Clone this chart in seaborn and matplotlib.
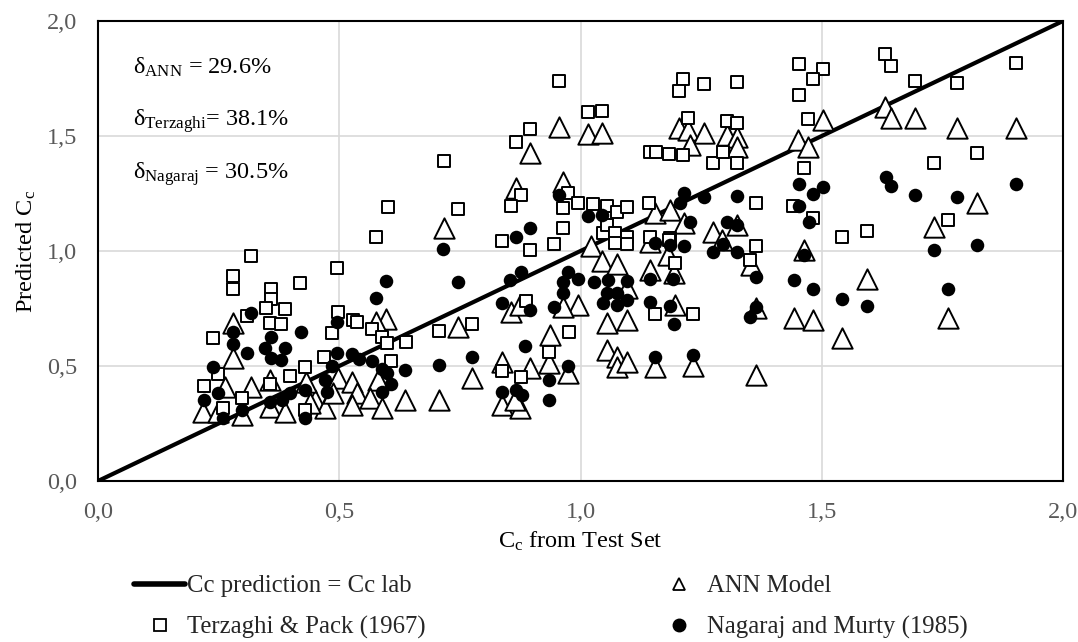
import matplotlib
matplotlib.use("Agg")
import matplotlib.pyplot as plt
import seaborn as sns
from matplotlib.lines import Line2D
from matplotlib.ticker import MultipleLocator, FuncFormatter

# ---------------- data ----------------
line_x = [0.0, 2.0]
line_y = [0.0, 2.0]

ann_pts = [
    (0.279, 0.686), (0.279, 0.533), (0.318, 0.410), (0.263, 0.410), (0.218, 0.301),
    (0.249, 0.301), (0.298, 0.287), (0.356, 0.323), (0.388, 0.301), (0.450, 0.352),
    (0.470, 0.316), (0.356, 0.440), (0.717, 1.100), (0.597, 0.703), (0.577, 0.693),
    (0.747, 0.671), (0.856, 0.736), (0.875, 0.765), (0.937, 0.635), (0.837, 0.519),
    (0.895, 0.490), (0.776, 0.447), (0.498, 0.447), (0.526, 0.432), (0.536, 0.381),
    (0.581, 0.439), (0.564, 0.360), (0.488, 0.381), (0.526, 0.330), (0.588, 0.316),
    (0.636, 0.352), (0.707, 0.352), (0.837, 0.330), (0.875, 0.316), (0.864, 0.352),
    (0.440, 0.338), (0.432, 0.432), (0.956, 1.541), (1.016, 1.509), (1.045, 1.514),
    (0.895, 1.425), (0.866, 1.275), (0.964, 1.301), (1.021, 1.022), (1.154, 1.164),
    (1.185, 1.178), (1.215, 1.120), (1.275, 1.084), (1.324, 1.113), (1.294, 1.048),
    (1.144, 1.040), (1.044, 0.957), (1.075, 0.942), (1.144, 0.917), (1.182, 0.983),
    (1.194, 0.903), (1.096, 0.838), (0.995, 0.765), (0.964, 0.758), (1.196, 0.765),
    (1.054, 0.686), (1.096, 0.700), (1.054, 0.570), (1.075, 0.540), (1.075, 0.497),
    (1.096, 0.519), (1.154, 0.497), (1.233, 0.500), (0.935, 0.512), (0.975, 0.468),
    (1.205, 1.536), (1.223, 1.526), (1.255, 1.514), (1.304, 1.504), (1.325, 1.494),
    (1.226, 1.461), (1.325, 1.454), (1.451, 1.483), (1.472, 1.451), (1.502, 1.570),
    (1.631, 1.627), (1.643, 1.577), (1.463, 1.004), (1.593, 0.877), (1.543, 0.620),
    (1.443, 0.707), (1.482, 0.700), (1.364, 0.751), (1.364, 0.461), (1.353, 0.939),
    (1.693, 1.577), (1.781, 1.533), (1.902, 1.533), (1.821, 1.210), (1.733, 1.106),
    (1.762, 0.707),
]

terz_pts = [
    (0.318, 0.978), (0.279, 0.893), (0.279, 0.835), (0.419, 0.860), (0.359, 0.833),
    (0.359, 0.791), (0.348, 0.753), (0.388, 0.746), (0.308, 0.719), (0.356, 0.686),
    (0.379, 0.681), (0.239, 0.620), (0.495, 0.926), (0.497, 0.736), (0.486, 0.645),
    (0.468, 0.540), (0.429, 0.494), (0.398, 0.458), (0.220, 0.414), (0.356, 0.422),
    (0.298, 0.362), (0.260, 0.316), (0.429, 0.309), (0.249, 0.465), (0.577, 1.062),
    (0.600, 1.190), (0.528, 0.700), (0.537, 0.693), (0.567, 0.659), (0.588, 0.627),
    (0.598, 0.599), (0.638, 0.606), (0.707, 0.652), (0.776, 0.683), (0.887, 0.784),
    (0.607, 0.522), (0.837, 0.480), (0.876, 0.454), (0.935, 0.562), (0.837, 1.045),
    (0.895, 1.004), (0.946, 1.029), (0.956, 1.739), (1.015, 1.606), (1.045, 1.609),
    (0.895, 1.530), (0.866, 1.475), (0.717, 1.391), (0.747, 1.183), (0.876, 1.243),
    (0.856, 1.197), (0.975, 1.251), (0.964, 1.186), (0.995, 1.207), (1.025, 1.204),
    (1.054, 1.196), (1.075, 1.171), (1.096, 1.193), (1.141, 1.207), (1.144, 1.432),
    (0.964, 1.099), (1.047, 1.077), (1.054, 1.113), (1.071, 1.077), (1.096, 1.062),
    (1.071, 1.033), (1.096, 1.029), (1.144, 1.062), (1.185, 1.055), (1.196, 0.947),
    (1.352, 0.962), (1.154, 0.725), (1.233, 0.725), (0.976, 0.649), (1.213, 1.746),
    (1.205, 1.696), (1.255, 1.727), (1.324, 1.736), (1.453, 1.813), (1.503, 1.791),
    (1.482, 1.746), (1.453, 1.678), (1.643, 1.804), (1.223, 1.577), (1.304, 1.565),
    (1.324, 1.555), (1.157, 1.429), (1.184, 1.420), (1.213, 1.417), (1.275, 1.381),
    (1.295, 1.432), (1.324, 1.381), (1.472, 1.574), (1.463, 1.360), (1.364, 1.210),
    (1.441, 1.197), (1.482, 1.145), (1.543, 1.062), (1.593, 1.088), (1.364, 1.022),
    (1.184, 1.048), (1.632, 1.857), (1.693, 1.739), (1.781, 1.729), (1.902, 1.816),
    (1.821, 1.427), (1.733, 1.381), (1.762, 1.135),
]

naga_pts = [
    (0.318, 0.729), (0.279, 0.646), (0.279, 0.594), (0.308, 0.558), (0.359, 0.627),
    (0.346, 0.577), (0.388, 0.577), (0.359, 0.536), (0.379, 0.526), (0.420, 0.646),
    (0.239, 0.494), (0.249, 0.381), (0.220, 0.352), (0.298, 0.309), (0.260, 0.273),
    (0.356, 0.345), (0.381, 0.352), (0.398, 0.381), (0.429, 0.396), (0.429, 0.273),
    (0.470, 0.440), (0.486, 0.499), (0.495, 0.690), (0.495, 0.558), (0.716, 1.007),
    (0.866, 1.062), (0.895, 1.100), (0.597, 0.870), (0.577, 0.794), (0.747, 0.867),
    (0.876, 0.910), (0.854, 0.874), (0.837, 0.772), (0.895, 0.743), (0.946, 0.758),
    (0.526, 0.551), (0.540, 0.529), (0.567, 0.523), (0.588, 0.486), (0.598, 0.468),
    (0.636, 0.483), (0.607, 0.420), (0.588, 0.388), (0.707, 0.504), (0.776, 0.538),
    (0.885, 0.588), (0.474, 0.388), (0.837, 0.386), (0.866, 0.396), (0.878, 0.374),
    (0.935, 0.439), (0.935, 0.352), (0.956, 1.243), (1.015, 1.153), (1.045, 1.157),
    (1.206, 1.207), (1.226, 1.127), (1.154, 1.033), (1.185, 1.026), (1.215, 1.023),
    (1.303, 1.127), (1.324, 1.113), (1.275, 0.997), (1.324, 0.997), (0.975, 0.910),
    (0.964, 0.867), (0.995, 0.878), (1.027, 0.864), (1.056, 0.874), (1.096, 0.871),
    (1.144, 0.878), (1.192, 0.878), (0.964, 0.819), (1.054, 0.819), (1.075, 0.816),
    (1.096, 0.787), (1.046, 0.775), (1.075, 0.765), (1.144, 0.780), (1.185, 0.761),
    (1.194, 0.681), (1.154, 0.540), (1.233, 0.548), (0.975, 0.500), (1.351, 0.714),
    (1.215, 1.251), (1.255, 1.236), (1.324, 1.239), (1.453, 1.290), (1.503, 1.277),
    (1.482, 1.247), (1.453, 1.197), (1.474, 1.127), (1.634, 1.323), (1.643, 1.284),
    (1.295, 1.029), (1.463, 0.983), (1.364, 0.888), (1.443, 0.874), (1.543, 0.790),
    (1.593, 0.761), (1.482, 0.835), (1.364, 0.758), (1.693, 1.243), (1.781, 1.236),
    (1.902, 1.291), (1.821, 1.026), (1.733, 1.004), (1.762, 0.833),
]

ann_x, ann_y = [p[0] for p in ann_pts], [p[1] for p in ann_pts]
terz_x, terz_y = [p[0] for p in terz_pts], [p[1] for p in terz_pts]
naga_x, naga_y = [p[0] for p in naga_pts], [p[1] for p in naga_pts]

tick_vals = [0.0, 0.5, 1.0, 1.5, 2.0]
stats_text = [
    r"δ$_{\mathrm{ANN}}$ = 29.6%",
    r"δ$_{\mathrm{Terzaghi}}$= 38.1%",
    r"δ$_{\mathrm{Nagaraj}}$ = 30.5%",
]
legend_labels = ["Cc prediction = Cc lab", "Terzaghi & Pack (1967)",
                 "ANN Model", "Nagaraj and Murty (1985)"]

# ---------------- style ----------------
sns.set_theme(style="white")
plt.rcParams["font.family"] = ["Liberation Serif", "DejaVu Serif"]
plt.rcParams["mathtext.fontset"] = "custom"
plt.rcParams["mathtext.rm"] = "Liberation Serif"
plt.rcParams["mathtext.it"] = "Liberation Serif:italic"
plt.rcParams["mathtext.bf"] = "Liberation Serif:bold"

FS = 17.8
fig = plt.figure(figsize=(10.78, 6.42), dpi=100)
ax = fig.add_axes([98 / 1078, 1 - 481 / 642, (1063 - 98) / 1078, (481 - 21) / 642])

sns.lineplot(x=line_x, y=line_y, color="black", linewidth=3.0, ax=ax, zorder=2)
sns.scatterplot(x=ann_x, y=ann_y, marker="^", s=215, color="white",
                edgecolor="black", linewidth=1.4, ax=ax, zorder=3)
sns.scatterplot(x=terz_x, y=terz_y, marker="s", s=68, color="white",
                edgecolor="black", linewidth=1.4, ax=ax, zorder=4)
sns.scatterplot(x=naga_x, y=naga_y, marker="o", s=95, color="black",
                edgecolor="black", linewidth=0, ax=ax, zorder=5)

ax.set_xlim(0, 2)
ax.set_ylim(0, 2)
ax.xaxis.set_major_locator(MultipleLocator(0.5))
ax.yaxis.set_major_locator(MultipleLocator(0.5))
fmt = FuncFormatter(lambda v, p: f"{v:.1f}".replace(".", ","))
ax.xaxis.set_major_formatter(fmt)
ax.yaxis.set_major_formatter(fmt)
ax.set_xticks(tick_vals)
ax.set_yticks(tick_vals)
ax.grid(True, color="#d9d9d9", linewidth=1.2)
ax.set_axisbelow(True)
for sp in ax.spines.values():
    sp.set_color("black")
    sp.set_linewidth(1.5)
ax.tick_params(axis="both", length=0, labelsize=17.5, labelcolor="#595959")
ax.tick_params(axis="x", pad=15)
ax.tick_params(axis="y", pad=15)

ax.set_xlabel(r"C$_{\mathrm{c}}$ from Test Set", fontsize=17.5, color="black", labelpad=5)
ax.set_ylabel(r"Predicted C$_{\mathrm{c}}$", fontsize=17.5, color="black", labelpad=6)

for txt, yv in zip(stats_text, [1.770, 1.543, 1.313]):
    ax.text(0.073, yv, txt, fontsize=17.5, color="black", ha="left", va="baseline")

handles = [
    Line2D([0], [0], color="black", lw=4),
    Line2D([0], [0], marker="s", color="none", markerfacecolor="white",
           markeredgecolor="black", markersize=8, markeredgewidth=1.3),
    Line2D([0], [0], marker="^", color="none", markerfacecolor="white",
           markeredgecolor="black", markersize=9, markeredgewidth=1.3),
    Line2D([0], [0], marker="o", color="none", markerfacecolor="black",
           markeredgecolor="black", markersize=9),
]
fig.legend(handles, legend_labels, ncol=2, loc="center",
           bbox_to_anchor=(0.511, 1 - 607 / 642), frameon=False, fontsize=FS,
           handlelength=2.1, handletextpad=0.08, columnspacing=9.2,
           labelspacing=0.75)

fig.savefig("out.png", dpi=100)
